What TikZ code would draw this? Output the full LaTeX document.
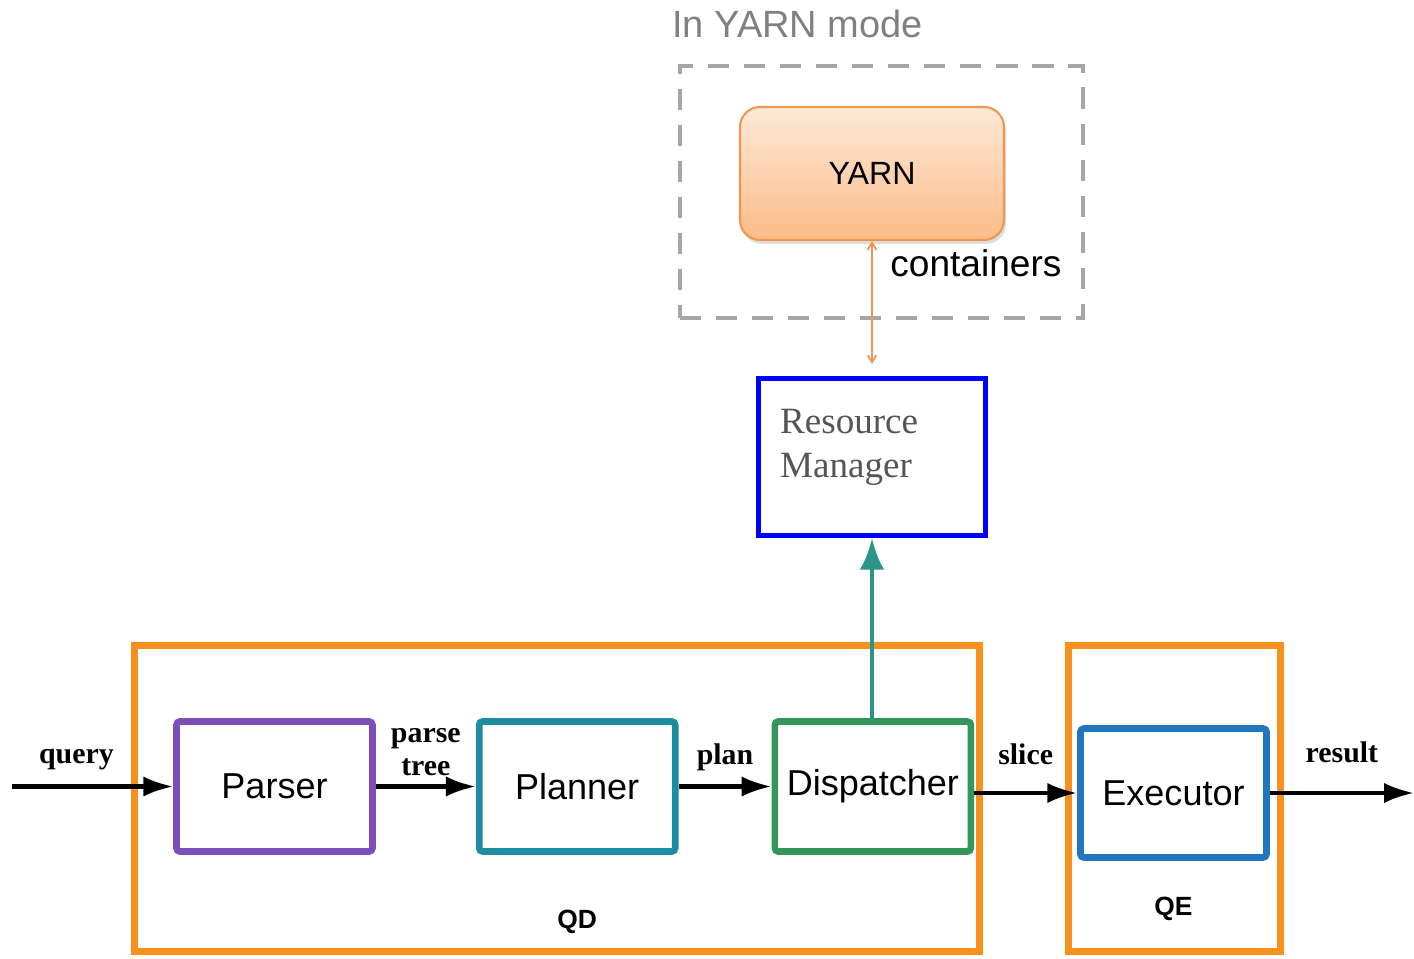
\documentclass[tikz,border=0pt]{standalone}
\usepackage{fontspec}
\setmainfont{Liberation Sans}
\newfontfamily\labelfont{Liberation Serif}
\usetikzlibrary{positioning, arrows.meta, shadows}

\definecolor{qorange}{RGB}{247,144,30}
\definecolor{parsercol}{RGB}{124,78,186}
\definecolor{plannercol}{RGB}{30,140,160}
\definecolor{dispcol}{RGB}{52,150,88}
\definecolor{execcol}{RGB}{34,118,190}
\definecolor{rmblue}{RGB}{0,0,255}
\definecolor{rmgray}{RGB}{85,85,85}
\definecolor{rmarrow}{RGB}{45,148,138}
\definecolor{modegray}{RGB}{166,166,166}
\definecolor{titlegray}{RGB}{128,128,128}
\definecolor{yarnline}{RGB}{240,150,80}
\definecolor{yarntop}{RGB}{253,233,216}
\definecolor{yarnbottom}{RGB}{252,188,136}

\begin{document}
\begin{tikzpicture}[>={Latex[length=17pt,width=11.5pt]}]
\tikzset{
    box/.style={draw, line width=3.8pt, rounded corners=2pt, minimum width=3.92cm, minimum height=2.6cm, font=\fontsize{20.5}{24}\selectfont},
    group/.style={draw=qorange, line width=4pt, minimum height=6.12cm},
    flow/.style={->, line width=2.3pt},
    lbl/.style={font=\labelfont\bfseries\fontsize{17}{19}\selectfont, align=center, inner sep=2pt, above=8pt},
    tag/.style={font=\bfseries\fontsize{15}{15}\selectfont},
}
\useasboundingbox (0,0) rectangle (28.28,19.16);

% query path
\node (qd) [group, minimum width=16.9cm] at (11.14,3.19) {};
\node (qe) [group, minimum width=4.24cm] at (23.49,3.19) {};
\node (parser) [box, draw=parsercol] at (5.49,3.43) {Parser};
\node (planner) [box, draw=plannercol, right=2.0cm of parser] {Planner};
\node (disp) [box, draw=dispcol, right=1.86cm of planner] {Dispatcher};
\node (exec) [box, draw=execcol, minimum width=3.72cm, minimum height=2.58cm] at (23.47,3.30) {Executor};
\node (qdtag) [tag, below=0.98cm of planner] {QD};
\node (qetag) [tag, below=0.6cm of exec] {QE};

\coordinate (in) at (0.24,3.43);
\coordinate (out) at (28.28,3.30);
\draw[flow] (in) -- node[lbl, above=6pt, pos=0.4] {query} (parser);
\draw[flow] (parser) -- node[lbl, above=3pt] {parse\\tree} (planner);
\draw[flow] (planner) -- node[lbl, above=6pt] {plan} (disp);
\draw[flow] (exec.west -| disp.east) -- node[lbl, above=13pt] {slice} (exec.west);
\draw[flow] (exec) -- node[lbl, above=14pt] {result} (out);

% resources
\node (rm) [draw=rmblue, line width=2.6pt, minimum width=4.55cm, minimum height=3.15cm] at (17.44,10.02) {};
\node (rmtext) [anchor=north west, align=left, text=rmgray, font=\labelfont\fontsize{21.1}{25}\selectfont] at ([xshift=0.36cm,yshift=-0.54cm]rm.north west) {Resource\\Manager};
\draw[-{Latex[length=18pt,width=14pt]}, line width=2.8pt, draw=rmarrow, fill=rmarrow] ([yshift=-0.1cm]rm.south |- disp.north) -- (rm.south);

% yarn mode
\node (mode) [draw=modegray, line width=2.4pt, dash pattern=on 12pt off 8.5pt, minimum width=8.06cm, minimum height=5.04cm] at (17.63,15.32) {};
\node (modetitle) [anchor=base west, text=titlegray, font=\fontsize{21.6}{22}\selectfont, inner sep=0pt] at (13.44,18.40) {In YARN mode};
\node (yarn) [draw=yarnline, line width=1.2pt, rounded corners=0.4cm, top color=yarntop, bottom color=yarnbottom,
  drop shadow={opacity=0.25, shadow xshift=0.04cm, shadow yshift=-0.08cm},
  minimum width=5.28cm, minimum height=2.66cm, font=\fontsize{18.3}{20}\selectfont] at (17.44,15.69) {YARN};
\draw[{Straight Barb[length=4pt,width=5pt]}-{Straight Barb[length=4pt,width=5pt]}, draw=yarnline, line width=1pt, shorten >=0.24cm] (yarn) -- (rm);
\node (cont) [anchor=base west, inner sep=0pt, font=\fontsize{21.1}{22}\selectfont] at (17.8,13.62) {containers};
\end{tikzpicture}
\end{document}
